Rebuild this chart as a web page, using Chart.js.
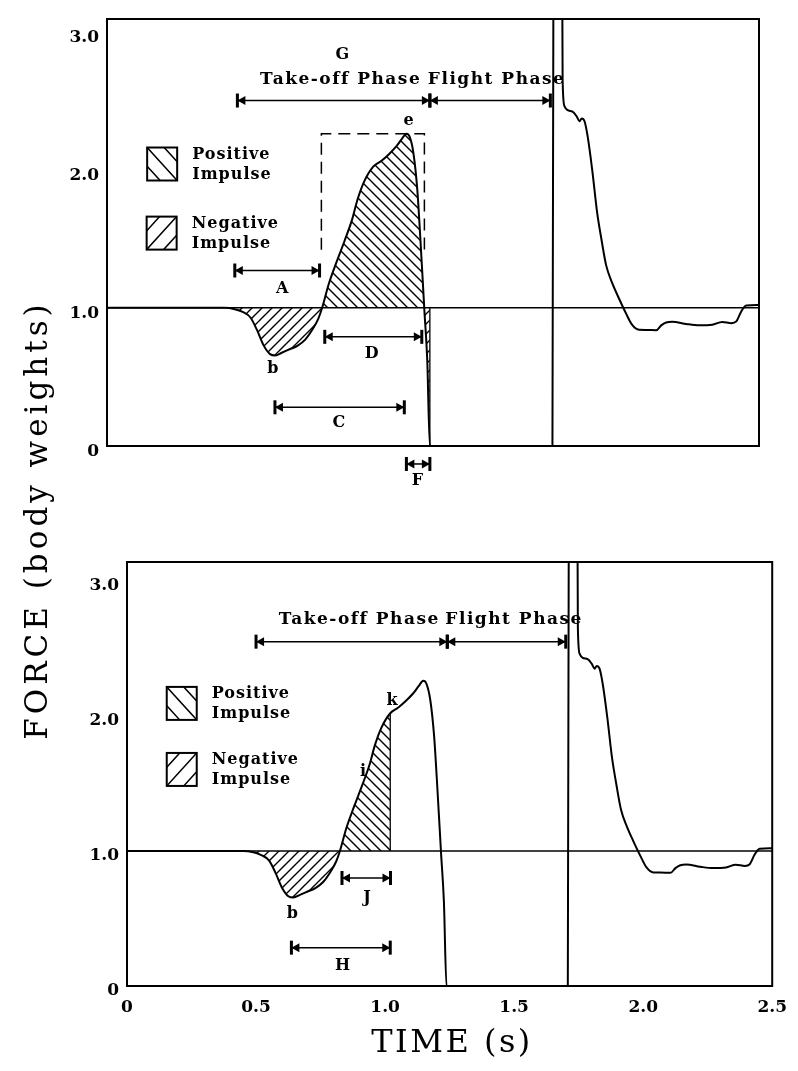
<!DOCTYPE html>
<html>
<head>
<meta charset="utf-8">
<script src="https://cdn.jsdelivr.net/npm/chart.js@4.4.1/dist/chart.umd.min.js"></script>
<style>
  body { margin: 0; background: #fff; width: 798px; height: 1071px; overflow: hidden; position: relative; }
  canvas { position: absolute; left: 0; }
  #top { top: 0; }
  #bottom { top: 500px; }
  #ytitle {
    position: absolute; left: 36px; top: 520px; width: 470px; text-align: center;
    transform: translate(-50%, -50%) rotate(-90deg);
    font: 31px "DejaVu Serif", serif; letter-spacing: 4px; color: #000; white-space: nowrap;
  }
  #xtitle {
    position: absolute; left: 452px; top: 1041px; transform: translate(-50%, -50%);
    font: 32px "DejaVu Serif", serif; letter-spacing: 2.5px; color: #000; white-space: nowrap;
  }
</style>
</head>
<body>
<canvas id="top" width="798" height="500"></canvas>
<canvas id="bottom" width="798" height="571"></canvas>
<div id="ytitle">FORCE (body weights)</div>
<div id="xtitle">TIME (s)</div>
<script>
// force trace, time in s, force in body weights (same trial in both panels)
const TIME = [0, 0.45, 0.49, 0.52, 0.55, 0.575, 0.60, 0.625, 0.645, 0.67, 0.70, 0.73, 0.76, 0.79, 0.81,
  0.825, 0.85, 0.88, 0.91, 0.94, 0.96, 0.985, 1.02, 1.05, 1.08, 1.11, 1.13, 1.148, 1.16, 1.175, 1.19,
  1.20, 1.212, 1.217, 1.228, 1.238, 1.708, 1.712, 1.730, 1.745, 1.747, 1.754, 1.766, 1.785, 1.801,
  1.812, 1.820, 1.831, 1.843, 1.861, 1.879, 1.895, 1.914, 1.937, 1.964, 1.990, 2.013, 2.040, 2.067,
  2.106, 2.125, 2.144, 2.167, 2.221, 2.271, 2.321, 2.359, 2.394, 2.413, 2.432, 2.451, 2.490, 2.500];
const FORCE = [1.00, 1.00, 0.99, 0.97, 0.93, 0.84, 0.73, 0.665, 0.655, 0.675, 0.70, 0.725, 0.77, 0.85, 0.92,
  1.00, 1.17, 1.33, 1.48, 1.64, 1.78, 1.91, 2.02, 2.06, 2.11, 2.17, 2.22, 2.26, 2.24, 2.12, 1.85,
  1.55, 1.15, 0.98, 0.62, 0.00, 0.00, 3.60, 4.50, 3.60, 2.65, 2.46, 2.43, 2.42, 2.385,
  2.35, 2.37, 2.35, 2.24, 1.99, 1.695, 1.505, 1.307, 1.18, 1.064, 0.96, 0.878, 0.841, 0.84,
  0.838, 0.873, 0.894, 0.90, 0.883, 0.873, 0.878, 0.898, 0.889, 0.902, 0.974, 1.017, 1.02, 1.02];

const BODY_WEIGHT = 1.0;
const X_TICKS = [0, 0.5, 1.0, 1.5, 2.0, 2.5];
const Y_TICKS = [0, 1.0, 2.0, 3.0];
const HATCH_START = 0.45;
const TAKEOFF = 1.238;
const K_TIME = 1.02;
const K_FORCE = 2.02;

// dashed bracket over the positive impulse (top panel)
const BRACKET_T = [0.822, 0.822, 1.217, 1.217];
const BRACKET_F = [1.42, 2.26, 2.26, 1.42];

// interval arrows: [from, to, force level]
const TOP_ARROWS = [[0.50, 1.238, 2.5], [1.238, 1.70, 2.5], [0.49, 0.815, 1.27],
  [0.835, 1.207, 0.79], [0.644, 1.14, 0.28], [1.148, 1.238, -0.13]];
const BOTTOM_ARROWS = [[0.50, 1.241, 2.55], [1.241, 1.70, 2.55], [0.833, 1.021, 0.80], [0.637, 1.02, 0.284]];

// text labels: [text, time, force]
const TOP_LABELS = [['G', 0.902, 2.83], ['Take-off Phase', 0.896, 2.65], ['Flight Phase', 1.494, 2.65],
  ['A', 0.672, 1.14], ['b', 0.636, 0.555], ['e', 1.156, 2.35], ['D', 1.015, 0.667],
  ['C', 0.889, 0.167], ['F', 1.19, -0.25]];
const BOTTOM_LABELS = [['Take-off Phase', 0.90, 2.71], ['Flight Phase', 1.50, 2.71], ['b', 0.641, 0.535],
  ['i', 0.915, 1.585], ['k', 1.027, 2.11], ['J', 0.93, 0.65], ['H', 0.835, 0.148]];

// legend box anchors (top-left corner), [time, force]
const LEGEND_TEXT = [['Positive', 'Impulse'], ['Negative', 'Impulse']];
const TOP_LEGEND = [[0.154, 2.16], [0.152, 1.66]];
const BOTTOM_LEGEND = [[0.154, 2.215], [0.154, 1.726]];

const FONT = '"DejaVu Serif", serif';

function hatch(slope) {
  const s = 10;
  const c = document.createElement('canvas');
  c.width = c.height = s;
  const g = c.getContext('2d');
  g.strokeStyle = '#000';
  g.lineWidth = 1.4;
  g.beginPath();
  if (slope > 0) { // "/"
    g.moveTo(-2, s + 2); g.lineTo(s + 2, -2);
    g.moveTo(-2, 2); g.lineTo(2, -2);
    g.moveTo(s - 2, s + 2); g.lineTo(s + 2, s - 2);
  } else { // "\"
    g.moveTo(-2, -2); g.lineTo(s + 2, s + 2);
    g.moveTo(s - 2, -2); g.lineTo(s + 2, 2);
    g.moveTo(-2, s - 2); g.lineTo(2, s + 2);
  }
  g.stroke();
  return g.createPattern(c, 'repeat');
}

function endCap(ctx, px, py, dir) {
  ctx.fillRect(px - 1.5, py - 7, 3, 14);
  ctx.beginPath();
  ctx.moveTo(px, py);
  ctx.lineTo(px + dir * 8, py - 4.5);
  ctx.lineTo(px + dir * 8, py + 4.5);
  ctx.closePath();
  ctx.fill();
}

function legendBox(ctx, bx, by, w, h, slope) {
  ctx.lineWidth = 2;
  ctx.strokeRect(bx, by, w, h);
  ctx.save();
  ctx.beginPath(); ctx.rect(bx, by, w, h); ctx.clip();
  ctx.lineWidth = 1.5;
  ctx.beginPath();
  for (let k = -1; k <= 1; k++) {
    const off = k * 17;
    if (slope < 0) { ctx.moveTo(bx + off, by); ctx.lineTo(bx + off + w, by + h); }
    else { ctx.moveTo(bx + off, by + h); ctx.lineTo(bx + off + w, by); }
  }
  ctx.stroke();
  ctx.restore();
}

const marks = {
  id: 'marks',
  afterDatasetsDraw(chart, args, opts) {
    const { ctx, chartArea: a } = chart;
    const x = chart.scales.x, y = chart.scales.y;
    ctx.save();
    ctx.strokeStyle = '#000';
    ctx.fillStyle = '#000';
    ctx.lineWidth = 2;
    ctx.strokeRect(a.left, a.top, a.right - a.left, a.bottom - a.top);

    opts.arrows.forEach(([t0, t1, v]) => {
      const x0 = x.getPixelForValue(t0), x1 = x.getPixelForValue(t1), py = y.getPixelForValue(v);
      ctx.lineWidth = 1.5;
      ctx.beginPath(); ctx.moveTo(x0, py); ctx.lineTo(x1, py); ctx.stroke();
      endCap(ctx, x0, py, 1);
      endCap(ctx, x1, py, -1);
    });

    ctx.textAlign = 'center';
    ctx.textBaseline = 'middle';
    opts.labels.forEach(([txt, t, v]) => {
      const long = txt.length > 1;
      ctx.font = 'bold ' + (long ? 17 : 16) + 'px ' + FONT;
      ctx.letterSpacing = long ? '1.5px' : '0px';
      ctx.fillText(txt, x.getPixelForValue(t), y.getPixelForValue(v));
    });

    ctx.textAlign = 'left';
    ctx.letterSpacing = '1px';
    opts.legend.forEach(([t, v], i) => {
      const bx = x.getPixelForValue(t), by = y.getPixelForValue(v);
      legendBox(ctx, bx, by, 30, 33, i === 0 ? -1 : 1);
      ctx.font = 'bold 16px ' + FONT;
      ctx.fillText(LEGEND_TEXT[i][0], bx + 45, by + 7);
      ctx.fillText(LEGEND_TEXT[i][1], bx + 45, by + 27);
    });
    ctx.restore();
  }
};

const curve = TIME.map((t, i) => ({ x: t, y: FORCE[i] }));

function makeChart(id, cfg) {
  const hatchPts = curve.filter(p => p.x >= HATCH_START && p.x <= cfg.hatchEnd);
  const datasets = [
    {
      data: hatchPts, borderColor: 'transparent', borderWidth: 0, pointRadius: 0,
      cubicInterpolationMode: 'monotone',
      fill: { target: { value: BODY_WEIGHT }, above: hatch(-1), below: hatch(1) },
    },
    { data: [{ x: 0, y: BODY_WEIGHT }, { x: 2.5, y: BODY_WEIGHT }], borderColor: '#000', borderWidth: 1.5, pointRadius: 0 },
    { data: curve, borderColor: '#000', borderWidth: 2, pointRadius: 0, cubicInterpolationMode: 'monotone' },
  ].concat(cfg.extra);

  return new Chart(document.getElementById(id), {
    type: 'line',
    data: { datasets },
    plugins: [marks],
    options: {
      responsive: false,
      animation: false,
      devicePixelRatio: 1,
      layout: { padding: cfg.padding },
      plugins: {
        legend: { display: false },
        tooltip: { enabled: false },
        marks: { arrows: cfg.arrows, labels: cfg.labels, legend: cfg.legend },
      },
      scales: {
        x: {
          type: 'linear', min: 0, max: 2.5,
          afterBuildTicks: s => { s.ticks = X_TICKS.map(v => ({ value: v })); },
          afterFit: s => { s.height = cfg.xHeight; },
          grid: { display: false, drawTicks: false },
          border: { display: false },
          ticks: {
            display: cfg.showX, padding: 11, color: '#000',
            font: { family: FONT, weight: 'bold', size: 17 },
            callback: v => (v === 0 ? '0' : v.toFixed(1)),
          },
        },
        y: {
          min: 0, max: cfg.yMax,
          afterBuildTicks: s => { s.ticks = Y_TICKS.map(v => ({ value: v })); },
          afterFit: s => { s.width = cfg.yWidth; },
          grid: { display: false, drawTicks: false },
          border: { display: false },
          ticks: {
            padding: 8, color: '#000', labelOffset: cfg.labelOffset,
            font: { family: FONT, weight: 'bold', size: 17 },
            callback: v => (v === 0 ? '0' : v.toFixed(1)),
          },
        },
      },
    },
  });
}

makeChart('top', {
  hatchEnd: TAKEOFF,
  yMax: 3.09, yWidth: 107, xHeight: 54, showX: false, labelOffset: 6,
  padding: { top: 19, right: 39, bottom: 0, left: 0 },
  arrows: TOP_ARROWS, labels: TOP_LABELS, legend: TOP_LEGEND,
  extra: [
    { data: [{ x: TAKEOFF, y: 0 }, { x: TAKEOFF, y: BODY_WEIGHT }], borderColor: '#000', borderWidth: 1.3, pointRadius: 0 },
    { data: BRACKET_T.map((t, i) => ({ x: t, y: BRACKET_F[i] })), borderColor: '#000', borderWidth: 1.5,
      borderDash: [12, 7], pointRadius: 0 },
  ],
});

makeChart('bottom', {
  hatchEnd: K_TIME,
  yMax: 3.14, yWidth: 127, xHeight: 85, showX: true, labelOffset: 5,
  padding: { top: 62, right: 19, bottom: 0, left: 0 },
  arrows: BOTTOM_ARROWS, labels: BOTTOM_LABELS, legend: BOTTOM_LEGEND,
  extra: [
    { data: [{ x: K_TIME, y: BODY_WEIGHT }, { x: K_TIME, y: K_FORCE }], borderColor: '#000', borderWidth: 1.3, pointRadius: 0 },
  ],
});
</script>
</body>
</html>
